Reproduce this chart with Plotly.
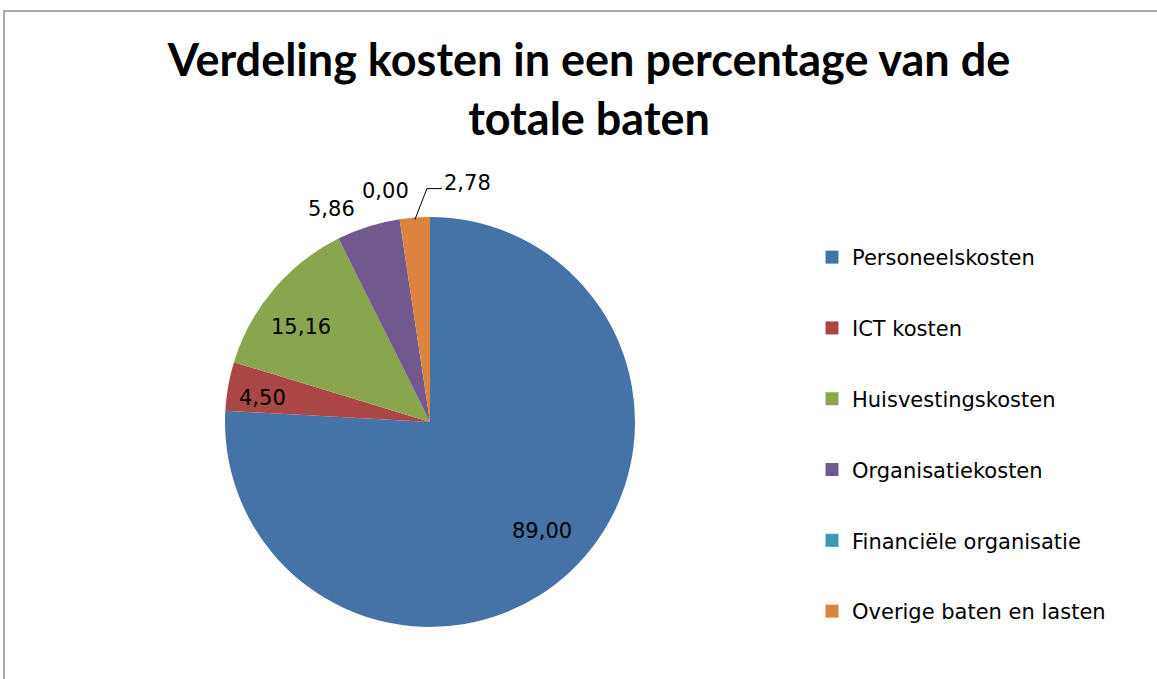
import math
import plotly.graph_objects as go

W, H = 1157, 679

categories = ["Personeelskosten", "ICT kosten", "Huisvestingskosten",
              "Organisatiekosten", "Financiële organisatie", "Overige baten en lasten"]
values = [89.00, 4.50, 15.16, 5.86, 0.00, 2.78]
value_labels = ["89,00", "4,50", "15,16", "5,86", "0,00", "2,78"]
colors = ["#4572A7", "#AA4643", "#89A54E", "#71588F", "#4198AF", "#DB843D"]

title_text = "Verdeling kosten in een percentage van de<br>totale baten"

# pie geometry (pixels)
CX, CY, R = 430, 422, 205

def px2paper(x, y):
    return x / W, 1 - y / H

fig = go.Figure()

dx0, dy1 = px2paper(CX - R, CY - R)
dx1, dy0 = px2paper(CX + R, CY + R)
fig.add_trace(go.Pie(
    labels=categories, values=values, sort=False, direction="clockwise",
    rotation=0, marker=dict(colors=colors, line=dict(width=0)),
    textinfo="none", hoverinfo="label+value", showlegend=False,
    domain=dict(x=[dx0, dx1], y=[dy0, dy1]),
))

# legend via dummy traces (one group each so spacing can be controlled)
for c, col in zip(categories, colors):
    fig.add_trace(go.Scatter(
        x=[None], y=[None], mode="markers", name=c, legendgroup=c,
        marker=dict(symbol="square", size=13, color=col),
        showlegend=True,
    ))

LABEL_FONT = dict(size=21, color="#000000", family="DejaVu Sans")

# data labels placed from slice angles
total = sum(values)
label_style = [  # (radius factor, xshift px, yshift px)
    (0.75, 6, 2.5),
    (0.886, 11, -8),
    (0.82, -1, -13.5),
    (1.0, -37, 18),
    (1.0, -14, 28),
]
cum = 0.0
annotations = []
shapes = []
for i, v in enumerate(values):
    mid = (cum + v / 2) / total * 2 * math.pi
    cum += v
    if i < len(label_style):
        f, xs, ys = label_style[i]
        px = CX + f * R * math.sin(mid)
        py = CY - f * R * math.cos(mid)
        x, y = px2paper(px, py)
        annotations.append(dict(x=x, y=y, xref="paper", yref="paper", text=value_labels[i],
                                showarrow=False, xshift=xs, yshift=ys,
                                xanchor="center", yanchor="middle", font=LABEL_FONT))
    else:
        ex = CX + 0.99 * R * math.sin(mid)
        ey = CY - 0.99 * R * math.cos(mid)
        p0 = px2paper(ex, ey)
        p1 = px2paper(ex + 12, ey - 31)
        p2 = px2paper(ex + 27, ey - 31)
        shapes.append(dict(type="path", xref="paper", yref="paper",
                           path=f"M {p0[0]},{p0[1]} L {p1[0]},{p1[1]} L {p2[0]},{p2[1]}",
                           line=dict(color="#000000", width=1)))
        lx, ly = px2paper(ex + 27, ey - 36.5)
        annotations.append(dict(x=lx, y=ly, xref="paper", yref="paper", text=value_labels[i],
                                showarrow=False, xanchor="left", yanchor="middle",
                                font=LABEL_FONT))

# chart border (gray frame)
bx0, by1 = px2paper(4, 11)
shapes.append(dict(type="rect", xref="paper", yref="paper", x0=bx0, y0=-0.05, x1=1.05, y1=by1,
                   line=dict(color="#8c8c8c", width=1.5), fillcolor="rgba(0,0,0,0)", layer="below"))

fig.update_layout(
    width=W, height=H,
    margin=dict(l=0, r=0, t=0, b=0),
    paper_bgcolor="#ffffff", plot_bgcolor="#ffffff",
    title=dict(text=title_text, x=589 / W, xanchor="center", y=1 - 76 / H, yanchor="top",
               font=dict(family="Lato", size=45, color="#000000", weight="bold")),
    xaxis=dict(visible=False), yaxis=dict(visible=False),
    legend=dict(x=812 / W, y=1 - 237 / H, xanchor="left", yanchor="top",
                font=dict(family="DejaVu Sans", size=21, color="#000000"),
                tracegroupgap=40.5, bgcolor="rgba(0,0,0,0)", itemclick=False),
    annotations=annotations,
    shapes=shapes,
)

fig.write_html("out.html", config={"displayModeBar": False},
               post_script="document.body.style.margin='0';")
